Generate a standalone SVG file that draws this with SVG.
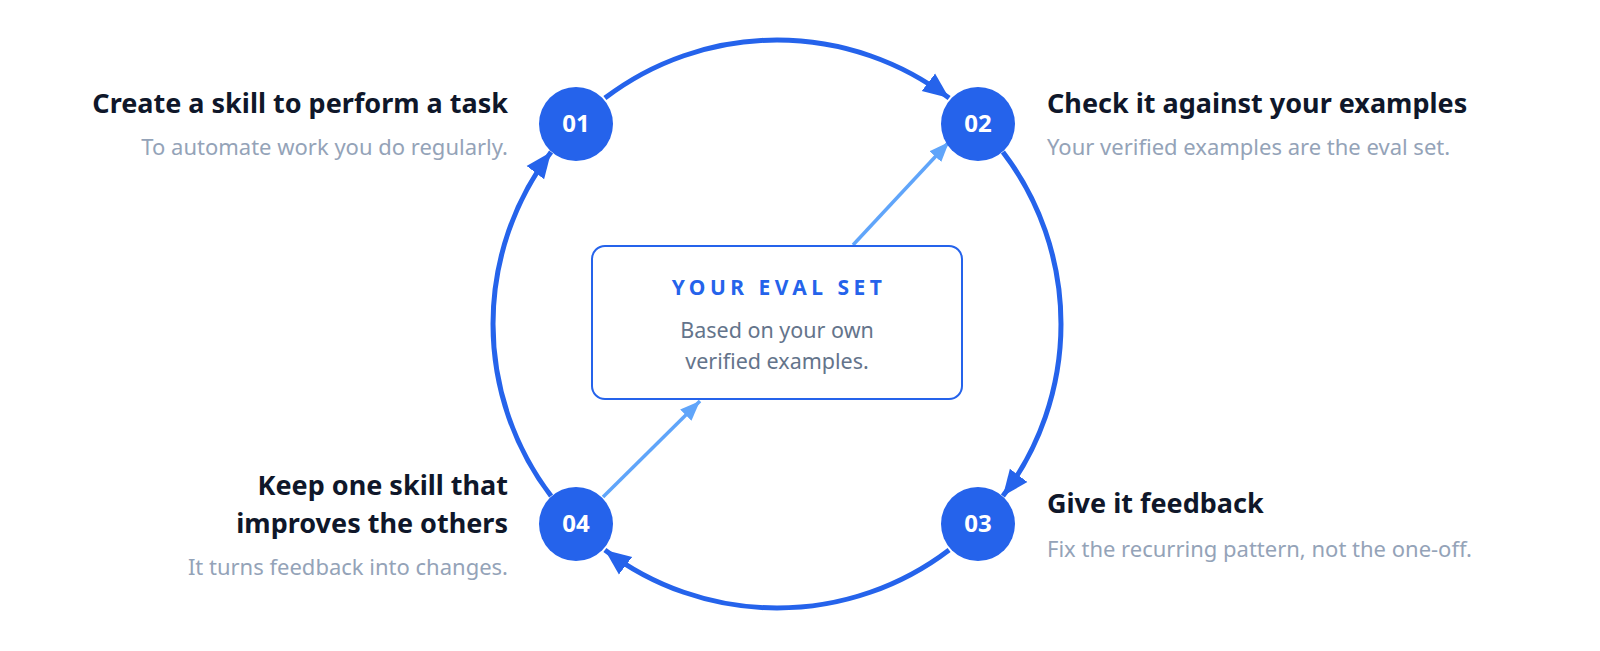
<svg xmlns="http://www.w3.org/2000/svg" width="1600" height="651" viewBox="0 0 1600 651">
<style>
.t{font-family:"Noto Sans","Open Sans",sans-serif;font-weight:700;font-size:27px;fill:#0f172a}
.s{font-family:"Noto Sans","Open Sans",sans-serif;font-size:22px;fill:#94a3b8}
.n{font-family:"Noto Sans","Open Sans",sans-serif;font-weight:700;font-size:24px;fill:#fff}
.arc{fill:none;stroke:#2563eb;stroke-width:5}
.lt{fill:none;stroke:#60a5fa;stroke-width:3.5}
</style>
<defs>
<marker id="a" markerUnits="userSpaceOnUse" markerWidth="28" markerHeight="28" viewBox="0 0 28 28" refX="26" refY="14" orient="auto"><path d="M0,3 L26,14 L0,25 Z" fill="#2563eb"/></marker>
<marker id="b" markerUnits="userSpaceOnUse" markerWidth="22" markerHeight="22" viewBox="0 0 22 22" refX="20" refY="11" orient="auto"><path d="M0,3 L20,11 L0,19 Z" fill="#60a5fa"/></marker>
</defs>
<rect width="1600" height="651" fill="#fff"/>
<g id="connectors">
<path class="arc" d="M604.9,98.1 A284,284 0 0 1 949.1,98.1" marker-end="url(#a)"/>
<path class="arc" d="M1002.9,151.9 A284,284 0 0 1 1002.9,496.1" marker-end="url(#a)"/>
<path class="arc" d="M949.1,549.9 A284,284 0 0 1 604.9,549.9" marker-end="url(#a)"/>
<path class="arc" d="M551.1,496.1 A284,284 0 0 1 551.1,151.9" marker-end="url(#a)"/>
<path class="lt" d="M853,245 L949,142" marker-end="url(#b)"/>
<path class="lt" d="M603,497 L700,401" marker-end="url(#b)"/>
</g>
<g id="box">
<rect x="592" y="246" width="370" height="153" rx="13" fill="#fff" stroke="#2563eb" stroke-width="2"/>
<text x="779" y="295" text-anchor="middle" font-family="Noto Sans,sans-serif" font-weight="700" font-size="21" letter-spacing="4.5" fill="#2563eb">YOUR EVAL SET</text>
<text x="777" y="338" text-anchor="middle" font-family="Noto Sans,sans-serif" font-size="21.5" fill="#64748b">Based on your own</text>
<text x="777" y="369" text-anchor="middle" font-family="Noto Sans,sans-serif" font-size="21.5" fill="#64748b">verified examples.</text>
</g>
<g id="n1"><circle cx="576" cy="124" r="37" fill="#2563eb"/><text class="n" x="576" y="132" text-anchor="middle">01</text>
<text class="t" x="508" y="113" text-anchor="end">Create a skill to perform a task</text>
<text class="s" x="508" y="155" text-anchor="end">To automate work you do regularly.</text></g>
<g id="n2"><circle cx="978" cy="124" r="37" fill="#2563eb"/><text class="n" x="978" y="132" text-anchor="middle">02</text>
<text class="t" x="1047" y="113">Check it against your examples</text>
<text class="s" x="1047" y="155">Your verified examples are the eval set.</text></g>
<g id="n3"><circle cx="978" cy="524" r="37" fill="#2563eb"/><text class="n" x="978" y="532" text-anchor="middle">03</text>
<text class="t" x="1047" y="513">Give it feedback</text>
<text class="s" x="1047" y="557">Fix the recurring pattern, not the one-off.</text></g>
<g id="n4"><circle cx="576" cy="524" r="37" fill="#2563eb"/><text class="n" x="576" y="532" text-anchor="middle">04</text>
<text class="t" x="508" y="495" text-anchor="end">Keep one skill that</text>
<text class="t" x="508" y="533" text-anchor="end">improves the others</text>
<text class="s" x="508" y="575" text-anchor="end">It turns feedback into changes.</text></g>
</svg>
